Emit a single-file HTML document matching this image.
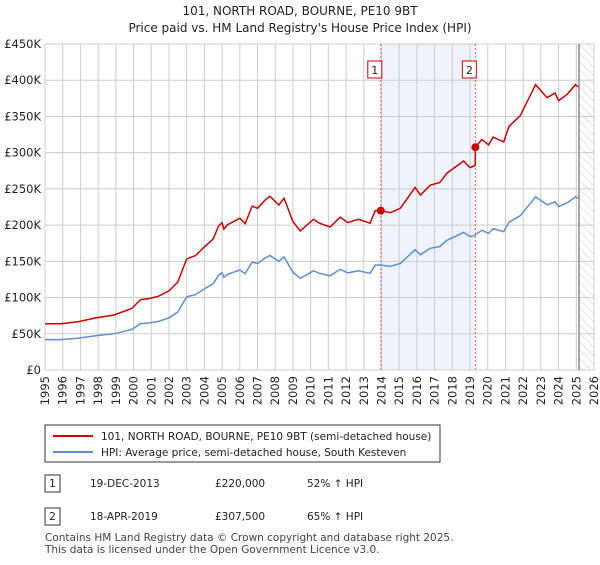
<!DOCTYPE html>
<html><head><meta charset="utf-8"><style>
body{margin:0;background:#fff;font-family:"Liberation Sans","DejaVu Sans",sans-serif;}
</style></head><body>
<svg width="600" height="560" xmlns="http://www.w3.org/2000/svg" font-family="'DejaVu Sans','Liberation Sans',sans-serif">
<defs><pattern id="hatch" width="6" height="6" patternUnits="userSpaceOnUse" patternTransform="rotate(-45)"><line x1="0" y1="0" x2="0" y2="6" stroke="#ccc" stroke-width="1"/></pattern></defs>
<text x="300" y="15" text-anchor="middle" font-size="12" fill="#222">101, NORTH ROAD, BOURNE, PE10 9BT</text>
<text x="300" y="32" text-anchor="middle" font-size="12" fill="#222">Price paid vs. HM Land Registry's House Price Index (HPI)</text>
<g id="plot"></g>
<g>
<rect x="45" y="425" width="395" height="37" fill="#fff" stroke="#333"/>
<line x1="53" y1="436" x2="93" y2="436" stroke="#cc0000" stroke-width="2"/>
<text x="101" y="440" font-size="10.5" fill="#222">101, NORTH ROAD, BOURNE, PE10 9BT (semi-detached house)</text>
<line x1="53" y1="452" x2="93" y2="452" stroke="#5b8fd4" stroke-width="2"/>
<text x="101" y="456" font-size="10.5" fill="#222">HPI: Average price, semi-detached house, South Kesteven</text>
</g>
<g font-size="10.5" fill="#222">
<rect x="45" y="475" width="15" height="17" fill="#fff" stroke="#333"/><text x="52.5" y="487" text-anchor="middle">1</text>
<text x="90" y="487">19-DEC-2013</text><text x="215" y="487">£220,000</text><text x="307" y="487">52% ↑ HPI</text>
<rect x="45" y="508" width="15" height="17" fill="#fff" stroke="#333"/><text x="52.5" y="520" text-anchor="middle">2</text>
<text x="90" y="520">18-APR-2019</text><text x="215" y="520">£307,500</text><text x="307" y="520">65% ↑ HPI</text>
</g>
<text x="45" y="541" font-size="10.5" fill="#444">Contains HM Land Registry data © Crown copyright and database right 2025.</text>
<text x="45" y="553" font-size="10.5" fill="#444">This data is licensed under the Open Government Licence v3.0.</text>
</svg>
<script>
const hpiYears=[1995,1995.9,1996.9,1997.9,1998.9,1999.9,2000.4,2000.9,2001.4,2002,2002.5,2003,2003.5,2004,2004.5,2004.8,2005,2005.1,2005.3,2006,2006.3,2006.7,2007,2007.4,2007.7,2008.2,2008.5,2009,2009.41,2010.16,2010.5,2011.1,2011.67,2012.1,2012.7,2013.36,2013.65,2013.93,2014.5,2015.06,2015.9,2016.2,2016.75,2017.3,2017.7,2018.64,2019.0,2019.24,2019.67,2020.05,2020.3,2020.9,2021.2,2021.84,2022.7,2023.35,2023.8,2024.0,2024.5,2024.95,2025.1];
const hpiValues=[42,42,44,47.5,50,56,64,65,67,72,80,101,104,112,119,131,134,128,132,138,133,149,147,154,158,150,156,135,126.5,137,133.5,130,139,134,137,133.5,145,145,143,147,166,159,168,170.5,179,190,184,185.5,193,188.5,195,191,204,213,239,228,232,225.5,231,239,237];
const saleYears=[2013.96,2019.3];
const salePrices=[220000,307500];
const yTicks=[0,50000,100000,150000,200000,250000,300000,350000,400000,450000];
const yTickLabels=["£0","£50K","£100K","£150K","£200K","£250K","£300K","£350K","£400K","£450K"];
const xTicks=[1995,1996,1997,1998,1999,2000,2001,2002,2003,2004,2005,2006,2007,2008,2009,2010,2011,2012,2013,2014,2015,2016,2017,2018,2019,2020,2021,2022,2023,2024,2025,2026];
const NS="http://www.w3.org/2000/svg";
const L=45,R=594,T=44,B=370;
const X=y=>L+(y-1995)/(2026-1995)*(R-L);
const Y=v=>B-v/450000*(B-T);
const g=document.getElementById('plot');
function mk(t,a,p){const e=document.createElementNS(NS,t);for(const k in a)e.setAttribute(k,a[k]);(p||g).appendChild(e);return e;}
function hpiAt(y){for(let i=0;i<hpiYears.length-1;i++){if(y<=hpiYears[i+1]){const f=(y-hpiYears[i])/(hpiYears[i+1]-hpiYears[i]);return hpiValues[i]+f*(hpiValues[i+1]-hpiValues[i]);}}return hpiValues[hpiValues.length-1];}
// shaded region
let r=mk('rect',{x:X(saleYears[0]),y:T,width:X(saleYears[1])-X(saleYears[0]),height:B-T,fill:'#eef3fc'});


let h=mk('rect',{x:579,y:T,width:R-579,height:B-T,fill:'url(#hatch)'});


// grid
yTicks.forEach((v,i)=>{mk('line',{x1:L,x2:R,y1:Y(v),y2:Y(v),stroke:'#ccc'});
 const t=mk('text',{x:L-4,y:Y(v)+4,'text-anchor':'end','font-size':'11.5',fill:'#222'});t.textContent=yTickLabels[i];
 
 });
xTicks.forEach(y=>{mk('line',{x1:X(y),x2:X(y),y1:T,y2:B,stroke:'#ccc'});
 const t=mk('text',{x:0,y:0,'text-anchor':'end','font-size':'11.5',fill:'#222',transform:`translate(${X(y)+4},${B+6}) rotate(-90)`});t.textContent=y;
 
 });
mk('line',{x1:579,x2:579,y1:T,y2:B,stroke:'#888','stroke-width':1.5});
// sale lines
saleYears.forEach((sy,i)=>{mk('line',{x1:X(sy),x2:X(sy),y1:T,y2:B,stroke:'#f06060','stroke-dasharray':'2,2'});
 const bx=mk('rect',{x:X(sy)-13,y:61,width:14,height:17,fill:'#fff',stroke:'#cc0000'});
 
 
 const t=mk('text',{x:X(sy)-6,y:74,'text-anchor':'middle','font-size':'11',fill:'#222'});t.textContent=i+1;});
// HPI line
let d=hpiYears.map((y,i)=>(i?'L':'M')+X(y).toFixed(1)+','+Y(hpiValues[i]*1000).toFixed(1)).join('');
let p=mk('path',{d:d,fill:'none',stroke:'#5b8fd4','stroke-width':1.5});


// property line: sale price indexed by HPI
const ratios=saleYears.map((sy,i)=>salePrices[i]/(hpiAt(sy)*1000));
let pts=[];
hpiYears.forEach((y,i)=>{ if(y>saleYears[0]&&pts.length&&pts[pts.length-1][0]<saleYears[0]) pts.push([saleYears[0],salePrices[0]]);
 if(y>saleYears[1]&&pts[pts.length-1][0]<saleYears[1]){pts.push([saleYears[1],hpiAt(saleYears[1])*1000*ratios[0]]);pts.push([saleYears[1],salePrices[1]]);}
 const k=y<=saleYears[1]?ratios[0]:ratios[1];pts.push([y,hpiValues[i]*1000*k]);});
d=pts.map((q,i)=>(i?'L':'M')+X(q[0]).toFixed(1)+','+Y(q[1]).toFixed(1)).join('');
p=mk('path',{d:d,fill:'none',stroke:'#cc0000','stroke-width':1.5});


saleYears.forEach((sy,i)=>{const c=mk('circle',{cx:X(sy),cy:Y(salePrices[i]),r:4,fill:'#cc0000'});
 
 });
</script>
</body></html>
